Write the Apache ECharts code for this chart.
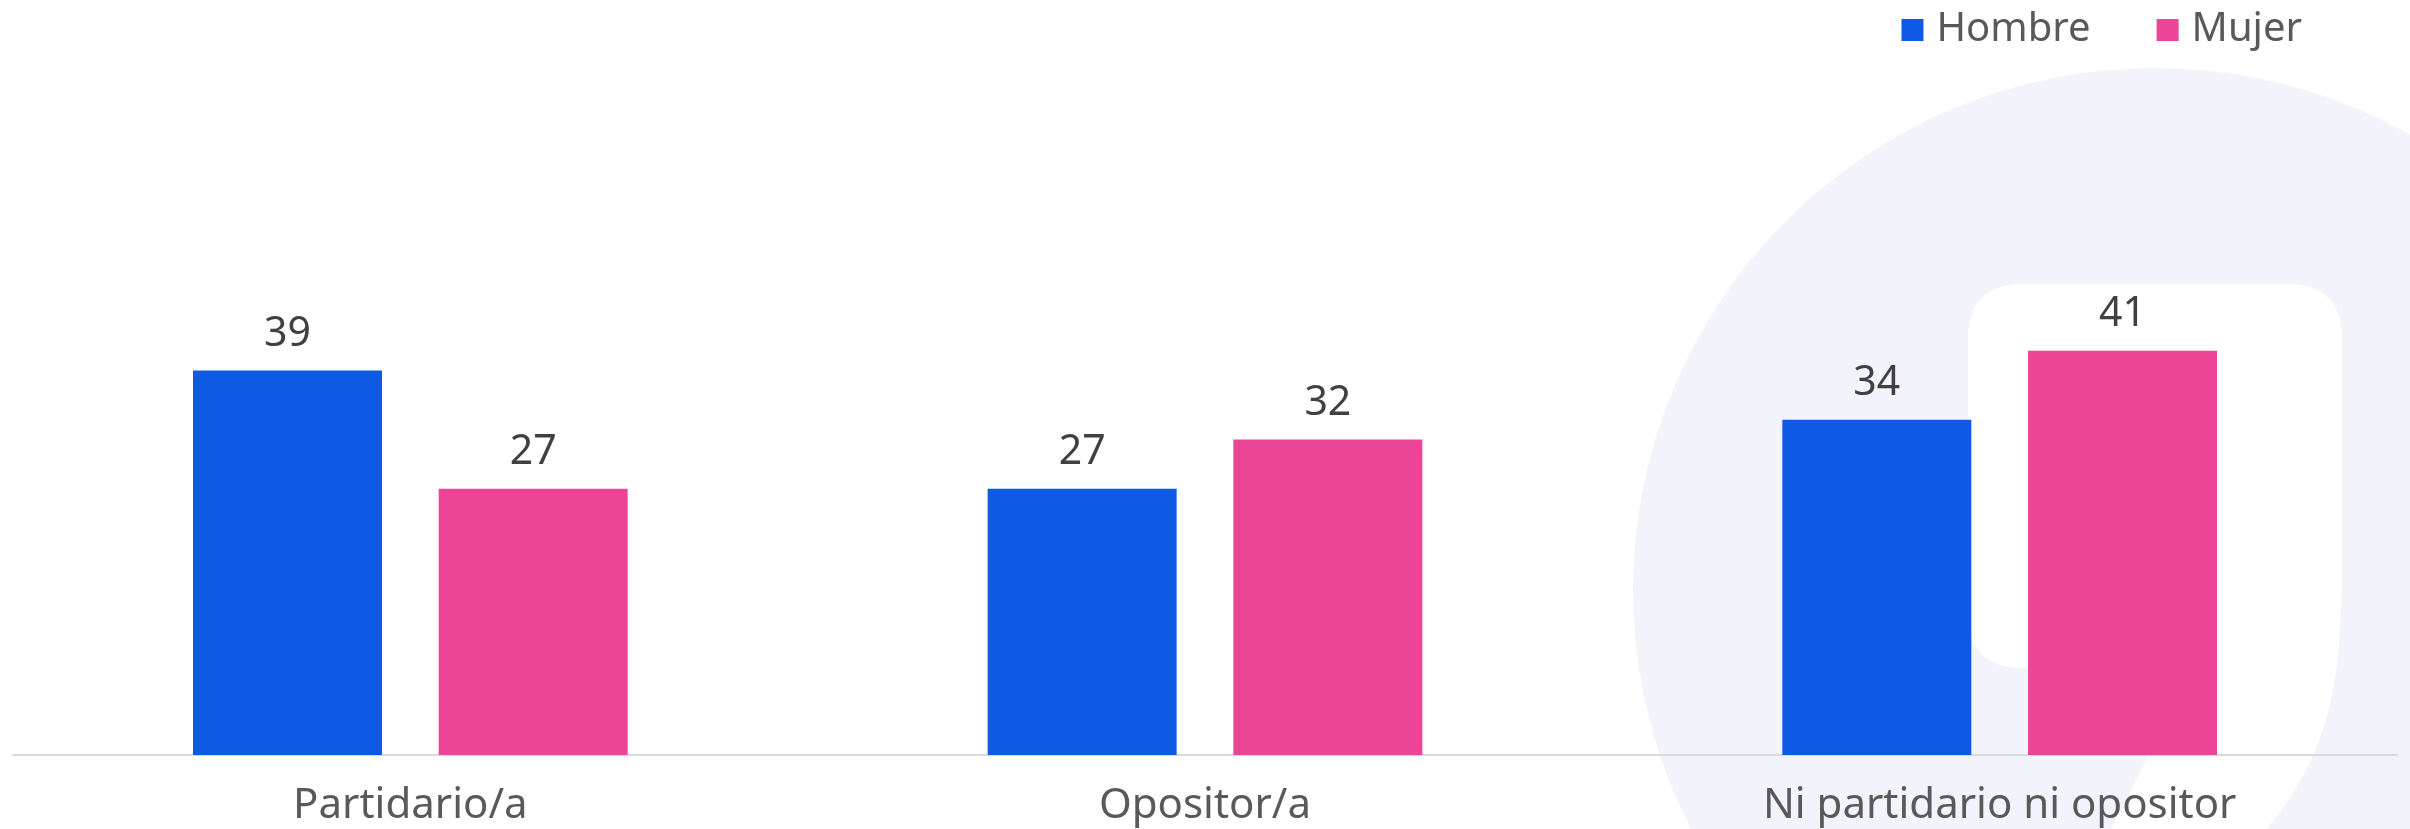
<!DOCTYPE html>
<html>
<head>
<meta charset="utf-8">
<script src="https://cdn.jsdelivr.net/npm/echarts@6/dist/echarts.min.js"></script>
<style>
  html, body { margin: 0; padding: 0; background: #ffffff; }
  #chart { width: 2410px; height: 829px; }
</style>
</head>
<body>
<div id="chart"></div>
<script>
// Categories and values
const categories = ['Partidario/a', 'Opositor/a', 'Ni partidario ni opositor'];
const seriesNames = ['Hombre', 'Mujer'];
const hombre = [39, 27, 34];
const mujer = [27, 32, 41];

const BLUE = '#0F5AE5';
const PINK = '#EC4497';
const FONT = '"Noto Sans", "DejaVu Sans", sans-serif';

// Outline builder for the background emblem (quadratic / cubic segments sampled into points)
function outline(start, segments) {
  const pts = [start.slice()];
  let cur = start.slice();
  const N = 16;
  segments.forEach(function (s) {
    if (s[0] === 'L') {
      cur = [s[1], s[2]];
      pts.push(cur.slice());
    } else if (s[0] === 'Q') {
      const p0 = cur, p1 = [s[1], s[2]], p2 = [s[3], s[4]];
      for (let i = 1; i <= N; i++) {
        const t = i / N, u = 1 - t;
        pts.push([
          u * u * p0[0] + 2 * u * t * p1[0] + t * t * p2[0],
          u * u * p0[1] + 2 * u * t * p1[1] + t * t * p2[1]
        ]);
      }
      cur = p2;
    } else if (s[0] === 'C') {
      const p0 = cur, p1 = [s[1], s[2]], p2 = [s[3], s[4]], p3 = [s[5], s[6]];
      for (let i = 1; i <= N; i++) {
        const t = i / N, u = 1 - t;
        pts.push([
          u * u * u * p0[0] + 3 * u * u * t * p1[0] + 3 * u * t * t * p2[0] + t * t * t * p3[0],
          u * u * u * p0[1] + 3 * u * u * t * p1[1] + 3 * u * t * t * p2[1] + t * t * t * p3[1]
        ]);
      }
      cur = p3;
    }
  });
  return pts;
}

const cutout = outline([1968, 339], [
  ['Q', 1968, 284, 2023, 284],
  ['L', 2287, 284],
  ['Q', 2342, 284, 2342, 339],
  ['L', 2342, 560],
  ['C', 2342, 720, 2320, 780, 2220, 880],
  ['L', 2085, 880],
  ['C', 2115, 820, 2160, 740, 2183, 668],
  ['L', 2023, 668],
  ['Q', 1968, 668, 1968, 613]
]);

const chart = echarts.init(document.getElementById('chart'), null, { renderer: 'canvas' });

const valueLabel = {
  show: true,
  position: 'top',
  distance: 16,
  fontFamily: FONT,
  fontSize: 41,
  color: '#404040'
};

const option = {
  backgroundColor: '#ffffff',
  animation: false,
  // Decorative emblem in the background: a pale disc with a white rounded cut-out
  graphic: [
    {
      type: 'circle',
      z: -20,
      silent: true,
      shape: { cx: 2155, cy: 590, r: 522 },
      style: { fill: '#F2F3FB' }
    },
    {
      type: 'polygon',
      z: -19,
      silent: true,
      shape: { points: cutout },
      style: { fill: '#ffffff' }
    }
  ],
  legend: {
    data: seriesNames,
    top: 5,
    right: 103,
    icon: 'rect',
    itemWidth: 22,
    itemHeight: 22,
    itemGap: 66,
    textStyle: {
      fontFamily: FONT,
      fontSize: 40,
      color: '#595959',
      padding: [0, 0, 0, 8]
    }
  },
  grid: {
    left: 13,
    right: 13,
    top: 262,
    bottom: 74,
    containLabel: false,
    outerBoundsMode: 'none'
  },
  xAxis: {
    type: 'category',
    data: categories,
    axisTick: { show: false },
    axisLine: { show: true, lineStyle: { color: '#DADADA', width: 2 } },
    axisLabel: {
      margin: 30,
      fontFamily: FONT,
      fontSize: 42,
      color: '#595959'
    }
  },
  yAxis: {
    type: 'value',
    min: 0,
    max: 50,
    show: false,
    splitLine: { show: false }
  },
  series: [
    {
      name: 'Hombre',
      type: 'bar',
      data: hombre,
      barWidth: 189,
      barGap: '30%',
      itemStyle: { color: BLUE },
      label: valueLabel
    },
    {
      name: 'Mujer',
      type: 'bar',
      data: mujer,
      barWidth: 189,
      barGap: '30%',
      itemStyle: { color: PINK },
      label: valueLabel
    }
  ]
};

chart.setOption(option);
</script>
</body>
</html>
